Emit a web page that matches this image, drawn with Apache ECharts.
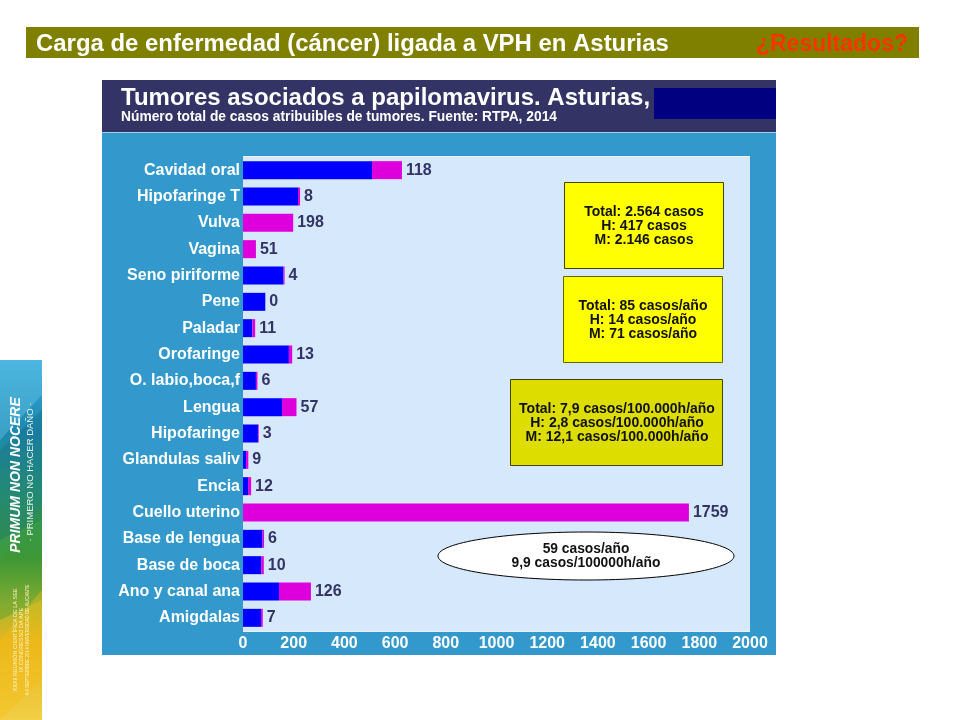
<!DOCTYPE html>
<html>
<head>
<meta charset="utf-8">
<style>
  html, body { margin: 0; padding: 0; background: #fff; }
  #main { width: 960px; height: 720px; }
</style>
<script src="https://cdn.jsdelivr.net/npm/echarts@6/dist/echarts.min.js"></script>
</head>
<body>
<div id="main"></div>
<script>
const FONT = '"Liberation Sans", Arial, sans-serif';

// valores, de arriba a abajo
const categories = ['Cavidad oral', 'Hipofaringe T', 'Vulva', 'Vagina', 'Seno piriforme', 'Pene',
  'Paladar', 'Orofaringe', 'O. labio,boca,f', 'Lengua', 'Hipofaringe', 'Glandulas saliv',
  'Encia', 'Cuello uterino', 'Base de lengua', 'Base de boca', 'Ano y canal ana', 'Amigdalas'];
const hombres = [509, 217, 0, 0, 160, 88, 37, 181, 51, 154, 59, 12, 20, 0, 77, 72, 142, 71];
const mujeres = [118, 8, 198, 51, 4, 0, 11, 13, 6, 57, 3, 9, 12, 1759, 6, 10, 126, 7];

const bannerTitle = 'Carga de enfermedad (cáncer) ligada a VPH en Asturias';
const bannerQuestion = '¿Resultados?';
const chartTitle = 'Tumores asociados a papilomavirus. Asturias, 2014';
const chartSubtitle = 'Número total de casos atribuibles de tumores. Fuente: RTPA, 2014';
const boxCasos = 'Total: 2.564 casos\nH: 417 casos\nM: 2.146 casos';
const boxAnual = 'Total: 85 casos/año\nH: 14 casos/año\nM: 71 casos/año';
const boxTasa = 'Total: 7,9 casos/100.000h/año\nH: 2,8 casos/100.000h/año\nM: 12,1 casos/100.000h/año';
const ellipseText = '59 casos/año\n9,9 casos/100000h/año';

const rect = (x, y, width, height, fill, stroke, z) => ({
  type: 'rect', shape: { x, y, width, height }, z: z || 0, silent: true,
  style: { fill, stroke: stroke || null, lineWidth: stroke ? 1 : 0 },
});
// texto en negrita; stretch ensancha como en la imagen original
const label = (x, y, text, size, fill, align, z, stretch) => ({
  type: 'text', x, y, z: z || 10, silent: true, scaleX: stretch || 1,
  style: { text, fill, font: `bold ${size}px ${FONT}`, align: align || 'left', verticalAlign: 'middle', lineHeight: 14 },
});
const facet = (points, fill) => ({
  type: 'polygon', shape: { points }, z: 1, silent: true, style: { fill },
});
const vertical = (x, y, text, font, fill) => ({
  type: 'text', x, y, rotation: Math.PI / 2, z: 3, silent: true,
  style: { text, fill, font, align: 'center', verticalAlign: 'middle' },
});

const stripGradient = {
  type: 'linear', x: 0, y: 0, x2: 0, y2: 1,
  colorStops: [
    { offset: 0, color: '#35a9d8' }, { offset: 0.2, color: '#1d87b0' },
    { offset: 0.38, color: '#2d9a72' }, { offset: 0.55, color: '#3f9a3a' },
    { offset: 0.68, color: '#a8b830' }, { offset: 0.78, color: '#e6b41e' }, { offset: 1, color: '#f2cf45' },
  ],
};

const graphics = [
  // banda superior
  rect(26, 27, 893, 31, '#808000'),
  label(36, 44.5, bannerTitle, 23, '#ffffff', 'left', 10, 1.04),
  label(908, 44.5, bannerQuestion, 23, '#ff3300', 'right'),

  // panel del grafico
  rect(102, 80, 674, 575, '#3399cc'),
  rect(102, 80, 674, 52, '#333366'),
  rect(102, 132, 674, 1, '#9fd0ea'),
  label(121, 98, chartTitle.split(' 2014')[0], 24, '#ffffff'),
  label(121, 117, chartSubtitle, 13.8, '#ffffff'),
  rect(654, 88, 122, 31, '#000080', null, 11),

  // cuadros de resumen
  rect(564.5, 182.5, 159, 86, '#ffff00', '#444400', 20),
  label(644, 226, boxCasos, 14, '#111111', 'center', 21),
  rect(563.5, 276.5, 159, 86, '#ffff00', '#666600', 20),
  label(643, 320, boxAnual, 14, '#111111', 'center', 21),
  rect(510.5, 379.5, 212, 86, '#dddd00', '#444400', 20),
  label(617, 423, boxTasa, 14, '#111111', 'center', 21),
  {
    type: 'ellipse', shape: { cx: 586, cy: 556, rx: 148, ry: 24 }, z: 20, silent: true,
    style: { fill: '#ffffff', stroke: '#000000', lineWidth: 1 },
  },
  label(586, 556, ellipseText, 13.8, '#111111', 'center', 21),

  // franja lateral
  rect(0, 360, 42, 360, stripGradient),
  facet([[0, 360], [42, 360], [42, 395], [0, 440]], 'rgba(120,210,240,0.35)'),
  facet([[0, 450], [42, 410], [42, 520], [0, 540]], 'rgba(10,90,110,0.25)'),
  facet([[0, 560], [42, 505], [42, 600], [0, 620]], 'rgba(60,150,50,0.35)'),
  facet([[0, 640], [42, 590], [42, 680], [0, 720]], 'rgba(245,190,20,0.4)'),
  vertical(16, 475, 'PRIMUM NON NOCERE', `italic bold 14px ${FONT}`, '#ffffff'),
  vertical(30, 472, '· PRIMERO NO HACER DAÑO ·', `9.5px ${FONT}`, '#e8f4e8'),
  vertical(15, 640, 'XXXII REUNIÓN CIENTÍFICA DE LA SEE', `5.5px ${FONT}`, '#fdf3c0'),
  vertical(21, 640, 'IX CONGRESSO DA APE', `5.5px ${FONT}`, '#fdf3c0'),
  vertical(28, 640, '4-6 SEPTIEMBRE 2014 UNIVERSIDAD DE ALICANTE', `4.5px ${FONT}`, '#fdf3c0'),
];

const chart = echarts.init(document.getElementById('main'), null, { renderer: 'canvas' });
chart.setOption({
  animation: false,
  backgroundColor: '#ffffff',
  textStyle: { fontFamily: FONT },
  graphic: { elements: graphics },
  grid: {
    left: 243, right: 210, top: 157, bottom: 89,
    show: true, backgroundColor: '#d5e8fc', borderWidth: 0, z: 5,
  },
  xAxis: {
    type: 'value', min: 0, max: 2000, interval: 200,
    axisLine: { show: false }, axisTick: { show: false }, splitLine: { show: false },
    axisLabel: { color: '#ffffff', fontWeight: 'bold', fontSize: 16, margin: 5, fontFamily: FONT, formatter: (v) => String(v) },
  },
  yAxis: {
    type: 'category', inverse: true, data: categories,
    axisLine: { show: false }, axisTick: { show: false },
    axisLabel: { color: '#ffffff', fontWeight: 'bold', fontSize: 16, margin: 3, fontFamily: FONT },
    splitLine: { show: true, lineStyle: { color: '#e6f1fc', width: 2 } },
  },
  series: [
    {
      name: 'Hombres', type: 'bar', stack: 'casos', data: hombres, barWidth: 18, z: 6,
      itemStyle: { color: '#0000ff' },
    },
    {
      name: 'Mujeres', type: 'bar', stack: 'casos', data: mujeres, barWidth: 18, z: 6,
      itemStyle: { color: '#dd00dd' },
      label: {
        show: true, position: 'right', distance: 4, color: '#333366',
        fontWeight: 'bold', fontSize: 16, fontFamily: FONT,
      },
    },
  ],
});
</script>
</body>
</html>
